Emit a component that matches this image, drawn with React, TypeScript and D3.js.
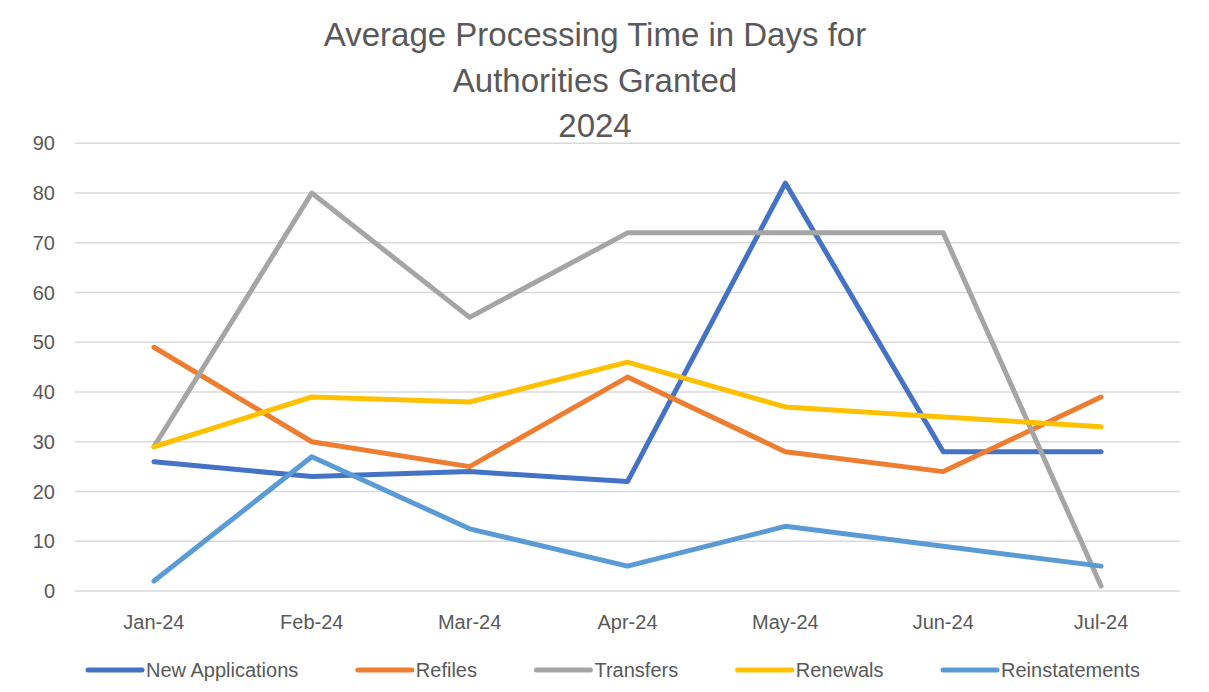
import React, { useEffect, useRef } from 'react';
import * as d3 from 'd3';

const months = ['Jan-24', 'Feb-24', 'Mar-24', 'Apr-24', 'May-24', 'Jun-24', 'Jul-24'];
const newApplications = [26, 23, 24, 22, 82, 28, 28];
const refiles = [49, 30, 25, 43, 28, 24, 39];
const transfers = [29, 80, 55, 72, 72, 72, 1];
const renewals = [29, 39, 38, 46, 37, 35, 33];
const reinstatements = [2, 27, 12.5, 5, 13, 9, 5];
const yTicks = [0, 10, 20, 30, 40, 50, 60, 70, 80, 90];
const titleLines = ['Average Processing Time in Days for', 'Authorities Granted', '2024'];

const series = [
  { name: 'New Applications', values: newApplications, color: '#4472C4' },
  { name: 'Refiles', values: refiles, color: '#ED7D31' },
  { name: 'Transfers', values: transfers, color: '#A5A5A5' },
  { name: 'Renewals', values: renewals, color: '#FFC000' },
  { name: 'Reinstatements', values: reinstatements, color: '#5B9BD5' },
];

const FONT = '"Liberation Sans Narrow", "Liberation Sans", Arial, sans-serif';

const App: React.FC = () => {
  const svgRef = useRef<SVGSVGElement>(null);

  useEffect(() => {
    if (!svgRef.current) return;
    const svg = d3.select(svgRef.current);
    svg.selectAll('*').remove();

    const width = 1209;
    const height = 692;
    const left = 75, right = 1180, top = 143.3, bottom = 591;

    // chart frame
    svg.append('rect')
      .attr('x', 3.5).attr('y', 4.5)
      .attr('width', width - 8).attr('height', height - 8)
      .style('fill', '#fff')
      .style('stroke', '#d9d9d9')
      .style('stroke-width', '1.5px');

    // title
    svg.append('g').selectAll('text')
      .data(titleLines)
      .enter()
      .append('text')
      .attr('x', 595)
      .attr('y', (d, i) => 46 + i * 45.5)
      .attr('text-anchor', 'middle')
      .style('font-family', FONT)
      .style('font-size', '33px')
      .style('fill', '#595959')
      .text(d => d);

    const x = d3.scalePoint<string>().domain(months).range([left, right]).padding(0.5);
    const y = d3.scaleLinear().domain([0, 90]).range([bottom, top]);

    // gridlines
    svg.append('g').selectAll('line')
      .data(yTicks)
      .enter()
      .append('line')
      .attr('x1', left).attr('x2', right)
      .attr('y1', d => y(d)).attr('y2', d => y(d))
      .style('stroke', '#d9d9d9')
      .style('stroke-width', '1.5px');

    // y labels
    svg.append('g').selectAll('text')
      .data(yTicks)
      .enter()
      .append('text')
      .attr('x', 55)
      .attr('y', d => y(d))
      .attr('dy', '0.35em')
      .attr('text-anchor', 'end')
      .style('font-family', FONT)
      .style('font-size', '20px')
      .style('fill', '#595959')
      .text(d => d);

    // x labels
    svg.append('g').selectAll('text')
      .data(months)
      .enter()
      .append('text')
      .attr('x', d => x(d)!)
      .attr('y', 629)
      .attr('text-anchor', 'middle')
      .style('font-family', FONT)
      .style('font-size', '20px')
      .style('fill', '#595959')
      .text(d => d);

    // lines
    const line = d3.line<number>()
      .x((d, i) => x(months[i])!)
      .y(d => y(d));

    svg.append('g').selectAll('path')
      .data(series)
      .enter()
      .append('path')
      .attr('d', d => line(d.values))
      .style('fill', 'none')
      .style('stroke', d => d.color)
      .style('stroke-width', '5px')
      .style('stroke-linejoin', 'round')
      .style('stroke-linecap', 'round');

    // legend
    const legend = svg.append('g');
    const items = legend.selectAll('g')
      .data(series)
      .enter()
      .append('g');
    items.append('line')
      .attr('x1', 0).attr('x2', 54)
      .attr('y1', 0).attr('y2', 0)
      .style('stroke', d => d.color)
      .style('stroke-width', '5px')
      .style('stroke-linecap', 'round');
    items.append('text')
      .attr('x', 58)
      .attr('dy', '0.35em')
      .style('font-family', FONT)
      .style('font-size', '20px')
      .style('fill', '#595959')
      .text(d => d.name);

    const widths: number[] = [];
    items.each(function () {
      const t = d3.select(this).select('text').node() as SVGTextElement;
      widths.push(58 + t.getComputedTextLength());
    });
    const legendLeft = 88, legendRight = 1140;
    const gap = (legendRight - legendLeft - d3.sum(widths)) / (widths.length - 1);
    let cx = legendLeft;
    items.attr('transform', (d, i) => {
      const pos = cx;
      cx += widths[i] + gap;
      return `translate(${pos},670)`;
    });
  }, []);

  return (
    <svg ref={svgRef} width={1209} height={692} style={{ display: 'block', margin: '-8px' }} />
  );
};

export default App;
